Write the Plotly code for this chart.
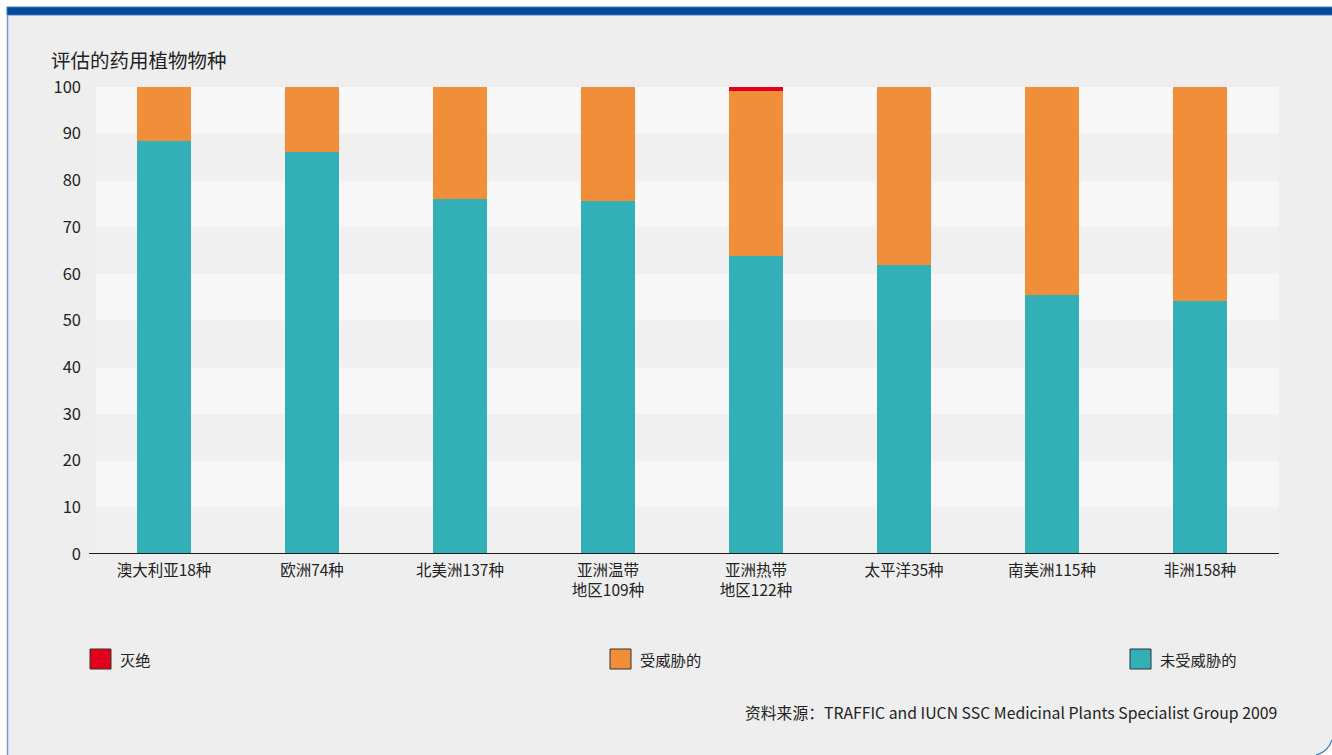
import plotly.graph_objects as go

categories = ["澳大利亚18种", "欧洲74种", "北美洲137种", "亚洲温带<br>地区109种",
              "亚洲热带<br>地区122种", "太平洋35种", "南美洲115种", "非洲158种"]
unthreatened = [88.5, 86.1, 76.0, 75.6, 63.8, 61.9, 55.5, 54.2]
threatened = [11.5, 13.9, 24.0, 24.4, 35.4, 38.1, 44.5, 45.8]
extinct = [0, 0, 0, 0, 0.8, 0, 0, 0]
y_ticks = [0, 10, 20, 30, 40, 50, 60, 70, 80, 90, 100]

names = ["未受威胁的", "受威胁的", "灭绝"]
colors = ["#33afb7", "#f18e3a", "#e2001a"]

FONT = "Noto Sans CJK SC, Noto Sans, sans-serif"
TXT = "#222222"
BG = "#eeeeee"

# figure geometry (page pixels; body margin removed)
W, H = 1332, 755
ML, MR, MT, MB = 90, 53, 87, 201
PW, PH = W - ML - MR, H - MT - MB


def px(xp):  # page x -> paper x
    return (xp - ML) / PW


def py(yp):  # page y -> paper y
    return (H - MB - yp) / PH


fig = go.Figure()
for vals, nm, col in zip([unthreatened, threatened, extinct], names, colors):
    fig.add_trace(go.Bar(x=categories, y=vals, name=nm, marker_color=col,
                         marker_line_width=0, width=0.36, showlegend=False))

shapes = []
# alternating horizontal bands
for i in range(10):
    shapes.append(dict(type="rect", xref="paper", yref="y", layer="below",
                       x0=px(96), x1=1, y0=i * 10, y1=i * 10 + 10,
                       fillcolor="#f7f7f7" if (9 - i) % 2 == 0 else "#f0f0f0",
                       line_width=0))
# x axis baseline
shapes.append(dict(type="line", xref="paper", yref="y", x0=px(89), x1=1,
                   y0=0, y1=0, line=dict(color="#1a1a1a", width=2)))
# white strips (top and left)
shapes.append(dict(type="rect", xref="paper", yref="paper", x0=px(-5), x1=px(1340),
                   y0=py(7), y1=py(-5), fillcolor="white", line_width=0))
shapes.append(dict(type="rect", xref="paper", yref="paper", x0=px(-5), x1=px(7),
                   y0=py(760), y1=py(-5), fillcolor="white", line_width=0))
# top blue band
shapes.append(dict(type="rect", xref="paper", yref="paper", x0=px(7), x1=px(1340),
                   y0=py(15), y1=py(7), fillcolor="#004a97",
                   line=dict(color="#3f7cbf", width=1)))
# left border
shapes.append(dict(type="line", xref="paper", yref="paper", x0=px(7.5), x1=px(7.5),
                   y0=py(15), y1=py(760), line=dict(color="#6f9fd0", width=1.5)))
# bottom-right rounded corner
cx0, cy0 = px(1316), py(755)
cx1, cy1 = px(1332), py(740)
qx, qy = px(1328), py(752)
shapes.append(dict(type="path", xref="paper", yref="paper",
                   path=f"M {cx0},{cy0} Q {qx},{qy} {cx1},{cy1} L {px(1340)},{cy1} L {px(1340)},{py(760)} L {cx0},{py(760)} Z",
                   fillcolor="white", line_width=0))
shapes.append(dict(type="path", xref="paper", yref="paper",
                   path=f"M {cx0},{cy0} Q {qx},{qy} {cx1},{cy1}",
                   line=dict(color="#3f7cbf", width=1.2)))

annotations = [
    dict(text="评估的药用植物物种", xref="paper", yref="paper", x=px(50), y=py(59),
         xanchor="left", yanchor="middle", showarrow=False, borderpad=0,
         font=dict(size=19.5, color=TXT, family=FONT)),
    dict(text="资料来源：TRAFFIC and IUCN SSC Medicinal Plants Specialist Group 2009",
         xref="paper", yref="paper", x=px(1279), y=py(712), xanchor="right",
         yanchor="middle", showarrow=False, font=dict(size=15.8, color=TXT, family=FONT)),
]

# legend drawn manually
legend_items = [("灭绝", colors[2], 90), ("受威胁的", colors[1], 610), ("未受威胁的", colors[0], 1130)]
for label, col, x0 in legend_items:
    shapes.append(dict(type="rect", xref="paper", yref="paper",
                       x0=px(x0), x1=px(x0 + 21), y0=py(669), y1=py(649),
                       fillcolor=col, line=dict(color="#333333", width=1)))
    annotations.append(dict(text=label, xref="paper", yref="paper", x=px(x0 + 28),
                            y=py(659), xanchor="left", yanchor="middle", showarrow=False,
                            font=dict(size=15.3, color=TXT, family=FONT)))

fig.update_layout(
    width=W, height=H,
    margin=dict(l=ML, r=MR, t=MT, b=MB, pad=0),
    paper_bgcolor=BG, plot_bgcolor=BG,
    barmode="stack",
    font=dict(family=FONT, color=TXT),
    shapes=shapes, annotations=annotations,
    xaxis=dict(range=[-0.5, 7.5 + 5 / 148], showgrid=False, zeroline=False, showline=False,
               ticks="", ticklabelstandoff=5,
               tickfont=dict(size=15.5, color=TXT, family=FONT), fixedrange=True),
    yaxis=dict(range=[0, 100], tickvals=y_ticks, showgrid=False, zeroline=False,
               showline=False, ticks="", ticklabelstandoff=8,
               tickfont=dict(size=16.5, color=TXT, family=FONT), fixedrange=True),
    showlegend=False,
)

fig.write_html("out.html", config={"displayModeBar": False},
               post_script="document.body.style.margin='0';document.body.style.overflow='hidden';document.documentElement.style.overflow='hidden';")
